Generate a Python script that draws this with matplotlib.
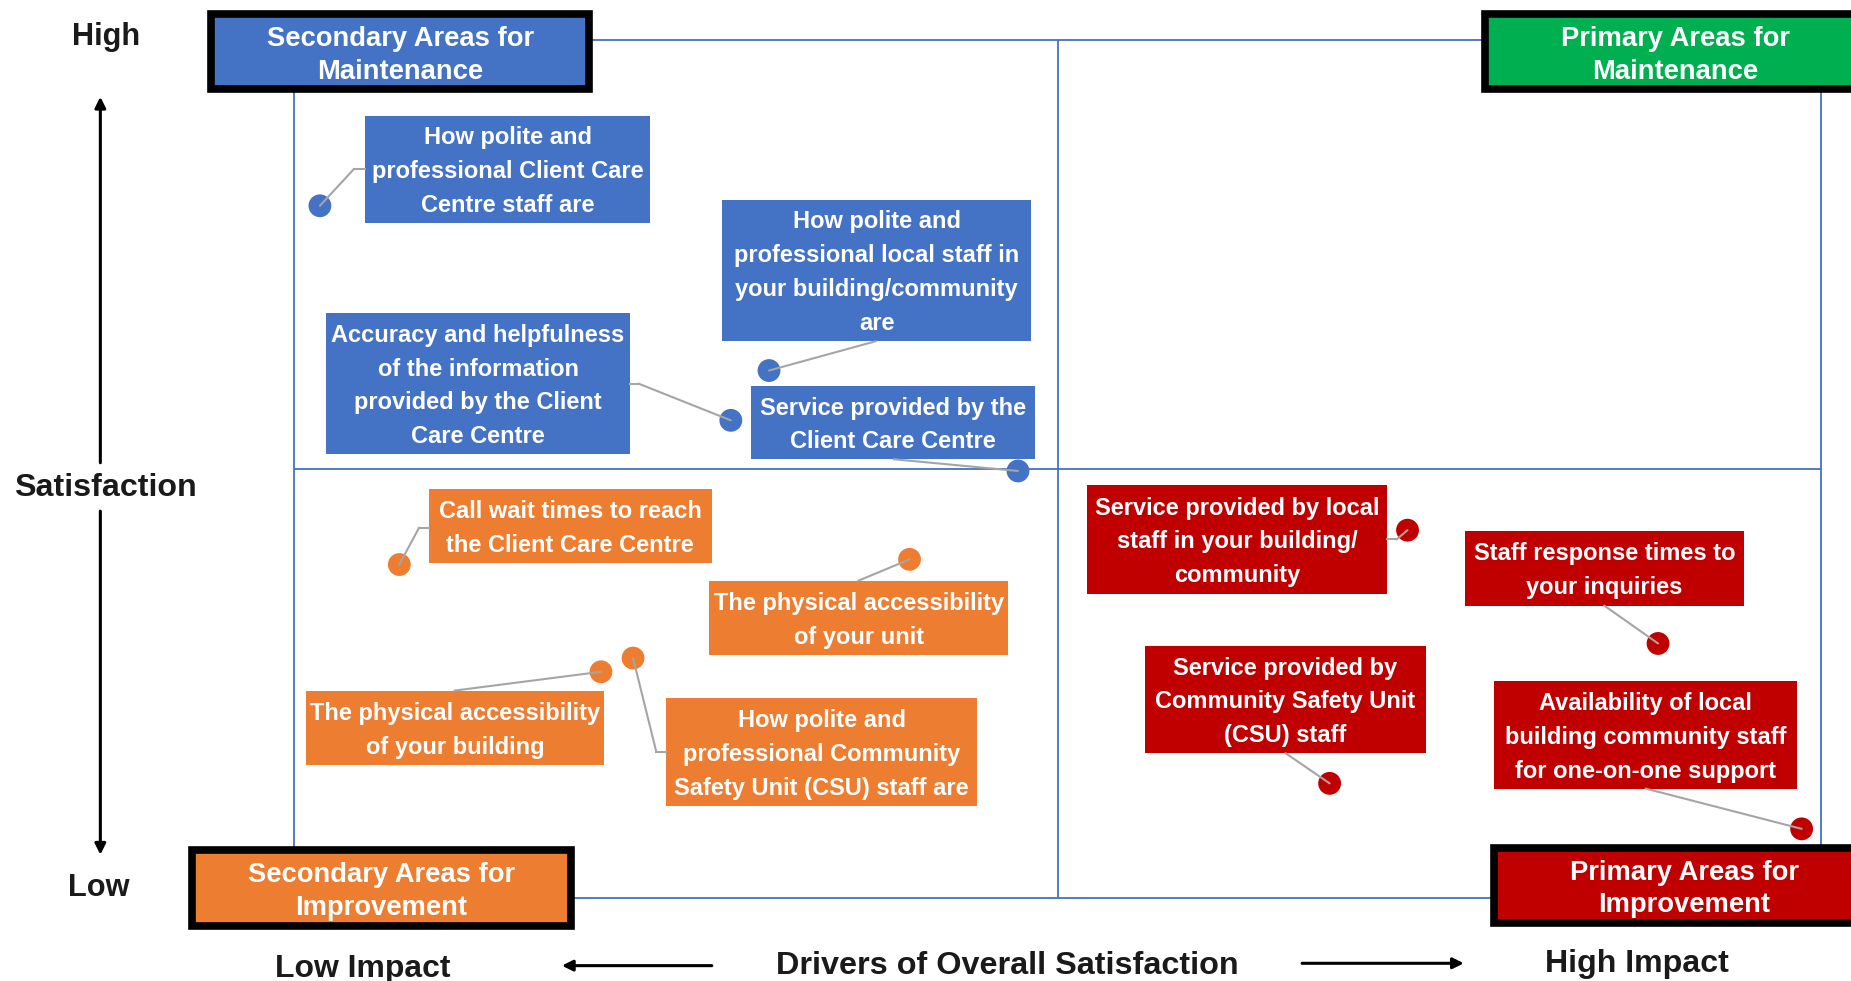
import matplotlib
matplotlib.use('Agg')
import matplotlib.pyplot as plt
from matplotlib.patches import Rectangle, ConnectionPatch, FancyArrowPatch
from matplotlib.lines import Line2D
from matplotlib import font_manager

# ========================================
# Data: impact (x, 0-100) and satisfaction (y, 0-100)
# ========================================
labels = [
    "How polite and\nprofessional Client Care\nCentre staff are",
    "How polite and\nprofessional local staff in\nyour building/community\nare",
    "Accuracy and helpfulness\nof the information\nprovided by the Client\nCare Centre",
    "Service provided by the\nClient Care Centre",
    "Call wait times to reach\nthe Client Care Centre",
    "The physical accessibility\nof your unit",
    "The physical accessibility\nof your building",
    "How polite and\nprofessional Community\nSafety Unit (CSU) staff are",
    "Service provided by local\nstaff in your building/\ncommunity",
    "Staff response times to\nyour inquiries",
    "Service provided by\nCommunity Safety Unit\n(CSU) staff",
    "Availability of local\nbuilding community staff\nfor one-on-one support",
]
impact = [1.7, 31.1, 28.6, 47.4, 6.9, 40.3, 20.1, 22.2, 72.9, 89.3, 67.8, 98.7]
satisfaction = [80.7, 61.5, 55.7, 49.8, 38.9, 39.5, 26.4, 28.0, 42.9, 29.7, 13.4, 8.1]
groups = ['sec_maint'] * 4 + ['sec_impr'] * 4 + ['pri_impr'] * 4

quadrant_titles = ["Secondary Areas for\nMaintenance", "Primary Areas for\nMaintenance",
                   "Secondary Areas for\nImprovement", "Primary Areas for\nImprovement"]

COLORS = {'sec_maint': '#4472C4', 'pri_maint': '#00B050',
          'sec_impr': '#ED7D31', 'pri_impr': '#C00000'}
FRAME = '#4472C4'
CONNECTOR = '#A5A5A5'

# ========================================
# Layout (reference pixel grid 1568 x 831)
# ========================================
W, H = 1568.0, 831.0

def fx(x):
    return x / W

def fy(y):
    return 1 - y / H

# label boxes: (x0, y0, x1, y1), connector anchor, optional elbow
label_boxes = [
    ((309, 98, 551, 189), (309, 143), (300, 143)),
    ((612, 169, 873, 289), (742, 289), None),
    ((276, 265, 534, 385), (534, 325), (541, 325)),
    ((636, 327, 877, 389), (757, 389), None),
    ((363, 414, 603, 477), (363, 447), (355, 447)),
    ((601, 492, 854, 555), (727, 492), None),
    ((259, 585, 512, 648), (385, 585), None),
    ((564, 591, 828, 683), (564, 637), (556, 637)),
    ((921, 411, 1175, 503), (1175, 457), (1183, 457)),
    ((1241, 450, 1477, 513), (1359, 513), None),
    ((970, 547, 1208, 638), (1089, 638), None),
    ((1266, 577, 1522, 668), (1394, 668), None),
]
corner_boxes = [
    ((179, 12, 499, 75), 'sec_maint'),
    ((1258, 12, 1580, 75), 'pri_maint'),
    ((163, 720, 484, 784), 'sec_impr'),
    ((1266, 718, 1580, 782), 'pri_impr'),
]

names = {f.name for f in font_manager.fontManager.ttflist}
if 'Liberation Sans Narrow' in names:
    FONT = 'Liberation Sans Narrow'
    k = 1.0
else:
    FONT = 'Liberation Sans'
    k = 0.82

fig = plt.figure(figsize=(18.51, 9.81), dpi=100)
fig.patch.set_facecolor('white')
ax = fig.add_axes([fx(249), fy(761), fx(1543) - fx(249), fy(34) - fy(761)])
ax.set_xlim(0, 100)
ax.set_ylim(0, 100)
ax.set_xticks([])
ax.set_yticks([])
for s in ax.spines.values():
    s.set_color(FRAME)
    s.set_linewidth(1.3)
ax.axvline(50, color=FRAME, lw=1.3)
ax.axhline(50, color=FRAME, lw=1.3)

ax.scatter(impact, satisfaction, s=270, c=[COLORS[g] for g in groups],
           edgecolors='none', zorder=3, clip_on=False)

# label boxes + connectors
for (box, anchor, elbow), text, g, x, y in zip(label_boxes, labels, groups, impact, satisfaction):
    x0, y0, x1, y1 = box
    fig.add_artist(Rectangle((fx(x0), fy(y1)), fx(x1) - fx(x0), fy(y0) - fy(y1),
                             transform=fig.transFigure, facecolor=COLORS[g],
                             edgecolor='none', zorder=2))
    fig.text(fx((x0 + x1) / 2), fy((y0 + y1) / 2 + 2), text, ha='center', va='center',
             color='white', fontsize=20.7 * k, fontweight='bold', family=FONT,
             linespacing=1.6, zorder=3)
    start = anchor
    if elbow is not None:
        fig.add_artist(Line2D([fx(anchor[0]), fx(elbow[0])], [fy(anchor[1]), fy(elbow[1])],
                              transform=fig.transFigure, color=CONNECTOR, lw=1.5, zorder=4))
        start = elbow
    fig.add_artist(ConnectionPatch(xyA=(fx(start[0]), fy(start[1])), coordsA=fig.transFigure,
                                   xyB=(x, y), coordsB=ax.transData,
                                   color=CONNECTOR, lw=1.5, zorder=4))

# quadrant title boxes
title_centers = [(339, 47), (1419, 47), (323, 755), (1427, 753)]
for (box, g), title, (cx, cy) in zip(corner_boxes, quadrant_titles, title_centers):
    x0, y0, x1, y1 = box
    fig.add_artist(Rectangle((fx(x0), fy(y1)), fx(x1) - fx(x0), fy(y0) - fy(y1),
                             transform=fig.transFigure, facecolor=COLORS[g],
                             edgecolor='black', lw=5.5, zorder=2, clip_on=False))
    fig.text(fx(cx), fy(cy), title, ha='center', va='center', color='white',
             fontsize=24 * k, fontweight='bold', family=FONT, linespacing=1.34, zorder=3)

# axis words
ax_font = dict(fontweight='bold', family=FONT, color='#1a1a1a', ha='center', va='center')
fig.text(fx(90), fy(31), "High", fontsize=27 * k, **ax_font)
fig.text(fx(89), fy(413), "Satisfaction", fontsize=28.3 * k, **ax_font)
fig.text(fx(84), fy(752), "Low", fontsize=27 * k, **ax_font)
fig.text(fx(307), fy(821), "Low Impact", fontsize=28 * k, **ax_font)
fig.text(fx(853), fy(818), "Drivers of Overall Satisfaction", fontsize=28.4 * k, **ax_font)
fig.text(fx(1387), fy(817), "High Impact", fontsize=28.2 * k, **ax_font)

arrow = dict(arrowstyle='-|>', color='black', lw=2.2, mutation_scale=16,
             shrinkA=0, shrinkB=0)
for (xs, ys), (xe, ye) in [((85, 392), (85, 82)), ((85, 433), (85, 724)),
                           ((603, 818), (476, 818)), ((1103, 816), (1240, 816))]:
    fig.add_artist(FancyArrowPatch((fx(xs), fy(ys)), (fx(xe), fy(ye)),
                                   transform=fig.transFigure, **arrow))

fig.savefig('out.png', dpi=100, facecolor='white')
